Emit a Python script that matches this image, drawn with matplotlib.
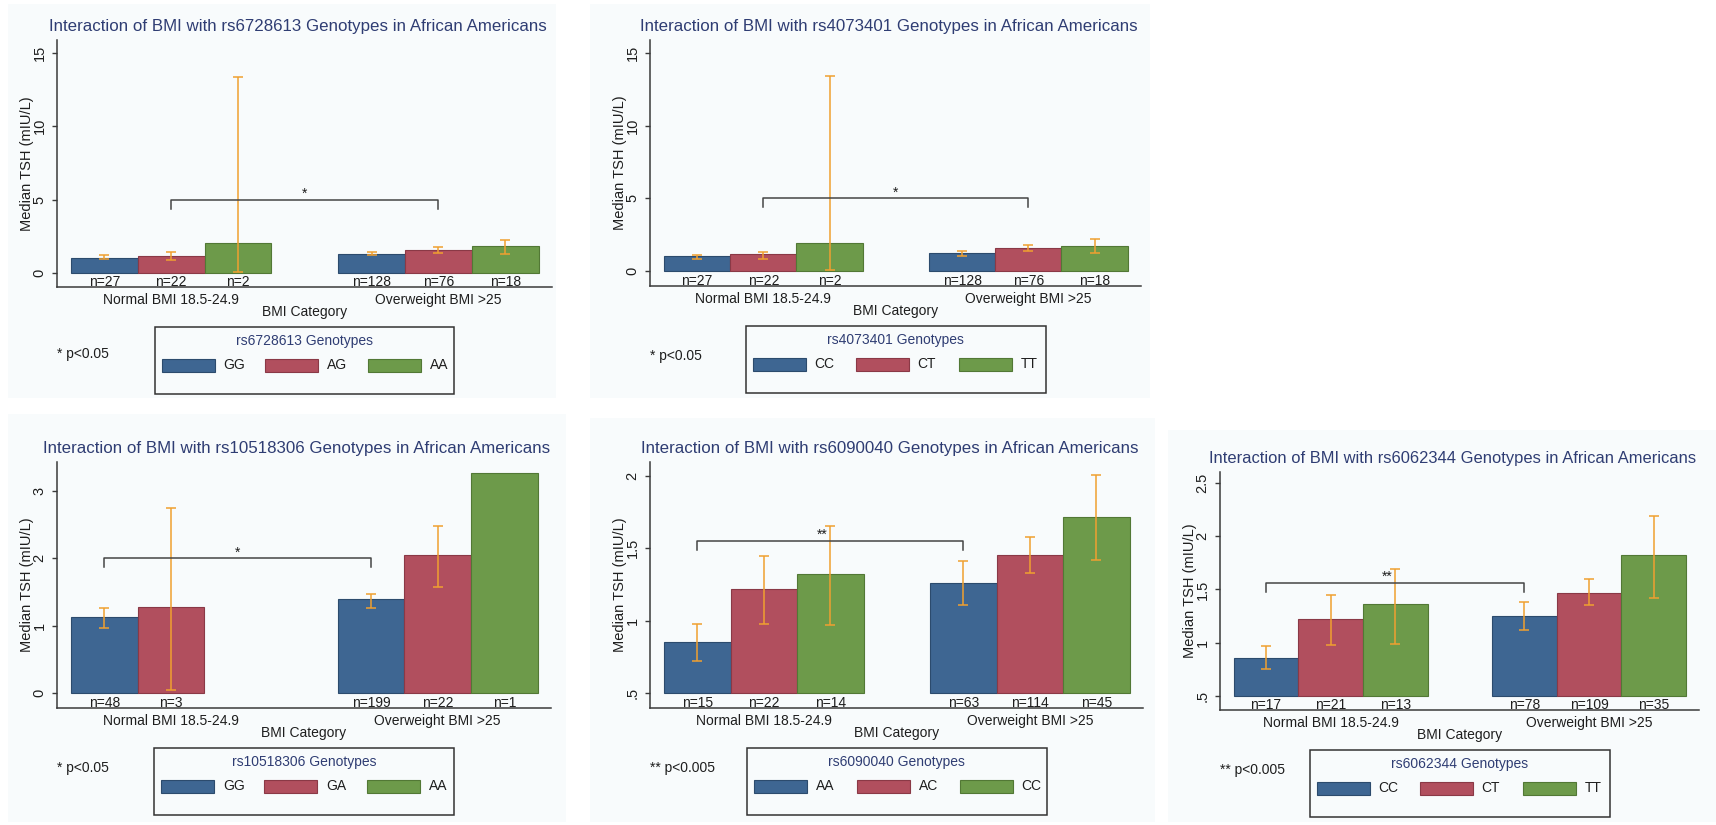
import numpy as np
import matplotlib
matplotlib.use("Agg")
import matplotlib.pyplot as plt
import matplotlib.transforms as mtransforms
from matplotlib.patches import Rectangle

plt.rcParams['font.family'] = ['Liberation Sans', 'DejaVu Sans']

W, H, DPI = 1716, 825, 100

# ---------------- data ----------------
bmi_categories = ["Normal BMI 18.5-24.9", "Overweight BMI >25"]
x_axis_title = "BMI Category"
y_axis_title = "Median TSH (mIU/L)"
title_template = "Interaction of BMI with {} Genotypes in African Americans"

snp_ids = ["rs6728613", "rs4073401", "rs10518306", "rs6090040", "rs6062344"]

genotypes_rs6728613 = ["GG", "AG", "AA"]
genotypes_rs4073401 = ["CC", "CT", "TT"]
genotypes_rs10518306 = ["GG", "GA", "AA"]
genotypes_rs6090040 = ["AA", "AC", "CC"]
genotypes_rs6062344 = ["CC", "CT", "TT"]

# order: normal (g1, g2, g3), overweight (g1, g2, g3)
median_rs6728613 = [1.04, 1.14, 2.05, 1.32, 1.59, 1.84]
ci_low_rs6728613 = [0.95, 0.86, 0.05, 1.20, 1.38, 1.30]
ci_high_rs6728613 = [1.20, 1.43, 13.36, 1.42, 1.75, 2.22]
n_rs6728613 = [27, 22, 2, 128, 76, 18]

median_rs4073401 = [1.03, 1.15, 1.95, 1.22, 1.56, 1.75]
ci_low_rs4073401 = [0.85, 0.85, 0.10, 1.05, 1.35, 1.25]
ci_high_rs4073401 = [1.10, 1.30, 13.40, 1.35, 1.80, 2.18]
n_rs4073401 = [27, 22, 2, 128, 76, 18]

median_rs10518306 = [1.13, 1.28, np.nan, 1.40, 2.05, 3.26]
ci_low_rs10518306 = [0.97, 0.05, np.nan, 1.26, 1.58, np.nan]
ci_high_rs10518306 = [1.26, 2.74, np.nan, 1.47, 2.48, np.nan]
n_rs10518306 = [48, 3, None, 199, 22, 1]

median_rs6090040 = [0.85, 1.22, 1.32, 1.26, 1.455, 1.715]
ci_low_rs6090040 = [0.72, 0.98, 0.97, 1.11, 1.33, 1.42]
ci_high_rs6090040 = [0.975, 1.45, 1.655, 1.41, 1.58, 2.01]
n_rs6090040 = [15, 22, 14, 63, 114, 45]

median_rs6062344 = [0.86, 1.22, 1.36, 1.25, 1.47, 1.82]
ci_low_rs6062344 = [0.75, 0.98, 0.99, 1.12, 1.35, 1.42]
ci_high_rs6062344 = [0.97, 1.45, 1.69, 1.38, 1.60, 2.19]
n_rs6062344 = [17, 21, 13, 78, 109, 35]

yticks_rs6728613 = [0, 5, 10, 15]
yticklabels_rs6728613 = ["0", "5", "10", "15"]
yticks_rs4073401 = [0, 5, 10, 15]
yticklabels_rs4073401 = ["0", "5", "10", "15"]
yticks_rs10518306 = [0, 1, 2, 3]
yticklabels_rs10518306 = ["0", "1", "2", "3"]
yticks_rs6090040 = [0.5, 1, 1.5, 2]
yticklabels_rs6090040 = [".5", "1", "1.5", "2"]
yticks_rs6062344 = [0.5, 1, 1.5, 2, 2.5]
yticklabels_rs6062344 = [".5", "1", "1.5", "2", "2.5"]

# significance bracket: (bar index from, bar index to, height)
bracket_rs6728613 = (1, 4, 5.0)
bracket_rs4073401 = (1, 4, 5.0)
bracket_rs10518306 = (0, 3, 2.0)
bracket_rs6090040 = (0, 3, 1.55)
bracket_rs6062344 = (0, 3, 1.56)
stars = ["*", "*", "*", "**", "**"]
notes = ["* p<0.05", "* p<0.05", "* p<0.05", "** p<0.005", "** p<0.005"]

# ---------------- style / layout ----------------
bar_colors = ["#3e6692", "#b14f5e", "#6d9a4a"]
bar_edges = ["#2c4b6d", "#8a3946", "#527835"]
err_color = "#f0a030"
title_color = "#2f3d73"
text_color = "#1e1e1e"
axis_color = "#3a3a3a"

# axes boxes in pixels: left, top, right, bottom
boxes = [(57, 40, 552, 287), (650, 40, 1141, 286), (57, 462, 551, 708),
         (650, 462, 1143, 708), (1220, 472, 1699, 710)]
ylims = [(-0.95, 15.88), (-1.03, 15.9), (-0.223, 3.43), (0.396, 2.097), (0.368, 2.603)]
note_dy = [67, 70, 60, 60, 60]
title_fs = [12.2, 12.2, 12.2, 12.2, 11.9]
panel_bg = [(8, 4, 556, 398), (590, 4, 1150, 398), (8, 414, 566, 822),
            (590, 418, 1155, 822), (1168, 430, 1716, 822)]

fig = plt.figure(figsize=(W / DPI, H / DPI), dpi=DPI)
fig.patch.set_facecolor("white")


def fx(px):
    return px / W


def fy(py):
    return 1 - py / H


for (x0, y0, x1, y1) in panel_bg:
    fig.add_artist(Rectangle((fx(x0), fy(y1)), (x1 - x0) / W, (y1 - y0) / H,
                             transform=fig.transFigure, facecolor="#f8fbfc",
                             edgecolor="none", zorder=-5))

panels = [
    (genotypes_rs6728613, median_rs6728613, ci_low_rs6728613, ci_high_rs6728613, n_rs6728613,
     yticks_rs6728613, yticklabels_rs6728613, bracket_rs6728613),
    (genotypes_rs4073401, median_rs4073401, ci_low_rs4073401, ci_high_rs4073401, n_rs4073401,
     yticks_rs4073401, yticklabels_rs4073401, bracket_rs4073401),
    (genotypes_rs10518306, median_rs10518306, ci_low_rs10518306, ci_high_rs10518306, n_rs10518306,
     yticks_rs10518306, yticklabels_rs10518306, bracket_rs10518306),
    (genotypes_rs6090040, median_rs6090040, ci_low_rs6090040, ci_high_rs6090040, n_rs6090040,
     yticks_rs6090040, yticklabels_rs6090040, bracket_rs6090040),
    (genotypes_rs6062344, median_rs6062344, ci_low_rs6062344, ci_high_rs6062344, n_rs6062344,
     yticks_rs6062344, yticklabels_rs6062344, bracket_rs6062344),
]

for k, (genos, med, lo, hi, ns, yt, ytl, br) in enumerate(panels):
    l, t, r, b = boxes[k]
    ax = fig.add_axes([fx(l), fy(b), (r - l) / W, (b - t) / H])
    ax.set_facecolor("none")
    ax.set_xlim(-0.71, 6.70)
    ax.set_ylim(*ylims[k])
    base = yt[0]
    med = np.asarray(med, float)
    lo = np.asarray(lo, float)
    hi = np.asarray(hi, float)
    n_geno = len(genos)
    pos = np.concatenate([np.arange(n_geno), np.arange(n_geno) + n_geno + 1]).astype(float)

    for gi in range(n_geno):
        idx = np.array([gi, gi + n_geno])
        ok = idx[~np.isnan(med[idx])]
        ax.bar(pos[ok], med[ok] - base, bottom=base, width=1.0, color=bar_colors[gi],
               edgecolor=bar_edges[gi], linewidth=0.8, zorder=2)

    okc = ~np.isnan(lo)
    ax.errorbar(pos[okc], (lo[okc] + hi[okc]) / 2, yerr=(hi[okc] - lo[okc]) / 2, fmt="none",
                ecolor=err_color, elinewidth=1.1, capsize=3.5, capthick=1.1, zorder=3)

    # significance bracket
    i0, i1, yb = br
    dpx = 9 * (ylims[k][1] - ylims[k][0]) / (b - t)
    ax.plot([pos[i0], pos[i0], pos[i1], pos[i1]], [yb - dpx, yb, yb, yb - dpx],
            color="#454545", linewidth=1.1, zorder=4)
    st_off = mtransforms.offset_copy(ax.transData, fig=fig, x=0, y=2, units="dots")
    ax.text((pos[i0] + pos[i1]) / 2 - 0.12 * (len(stars[k]) - 1), yb, stars[k],
            transform=st_off, ha="center", va="baseline", fontsize=10, color=text_color)

    # n labels
    blend = mtransforms.blended_transform_factory(ax.transData, ax.transAxes)
    n_tr = mtransforms.offset_copy(blend, fig=fig, x=0, y=1, units="dots")
    for p, nv in zip(pos, ns):
        if nv is not None:
            ax.text(p, 0, f"n={nv}", transform=n_tr, ha="center", va="baseline",
                    fontsize=10, color=text_color, zorder=5)

    # category labels
    cat_tr = mtransforms.offset_copy(blend, fig=fig, x=0, y=-13, units="dots")
    for ci, cat in enumerate(bmi_categories):
        ax.text(np.mean(pos[ci * n_geno:(ci + 1) * n_geno]), 0, cat, transform=cat_tr,
                ha="center", va="center", fontsize=10, color=text_color)
    xt_tr = mtransforms.offset_copy(ax.transAxes, fig=fig, x=0, y=-25, units="dots")
    ax.text(0.5, 0, x_axis_title, transform=xt_tr, ha="center", va="center",
            fontsize=10, color=text_color)

    # axes styling
    for s in ["top", "right"]:
        ax.spines[s].set_visible(False)
    for s in ["left", "bottom"]:
        ax.spines[s].set_color(axis_color)
        ax.spines[s].set_linewidth(1.1)
    ax.set_xticks([])
    ax.set_yticks(yt)
    ax.set_yticklabels(ytl, rotation=90, va="center", fontsize=10.5, color=text_color)
    ax.tick_params(axis="y", length=3.6, width=1.0, color=axis_color, pad=4.0)

    # y title and chart title
    fig.text(fx(l - 30), fy((t + b) / 2), y_axis_title, rotation=90, ha="center",
             va="center", fontsize=10.5, color=text_color)
    fig.text(fx((l + r) / 2 - 7), fy(t - 14), title_template.format(snp_ids[k]),
             ha="center", va="center", fontsize=title_fs[k], color=title_color)

    # legend box
    lw_, lh_ = 300, 67
    lx = (l + r) / 2 - lw_ / 2
    ly = b + 40
    fig.add_artist(Rectangle((fx(lx), fy(ly + lh_)), lw_ / W, lh_ / H, transform=fig.transFigure,
                             fill=False, edgecolor="#333333", linewidth=1.1))
    fig.text(fx(lx + lw_ / 2), fy(ly + 14), f"{snp_ids[k]} Genotypes", ha="center",
             va="center", fontsize=10, color=title_color)
    for gi, g in enumerate(genos):
        px0 = lx + 7 + gi * 103
        fig.add_artist(Rectangle((fx(px0), fy(ly + 38 + 6.5)), 53 / W, 13 / H,
                                 transform=fig.transFigure, facecolor=bar_colors[gi],
                                 edgecolor=bar_edges[gi], linewidth=0.8))
        fig.text(fx(px0 + 62), fy(ly + 38), g, ha="left", va="center", fontsize=10,
                 color=text_color)

    # p-value note
    fig.text(fx(l), fy(b + note_dy[k]), notes[k], ha="left", va="center", fontsize=10,
             color=text_color)

fig.savefig("out.png", dpi=DPI, facecolor="white")
